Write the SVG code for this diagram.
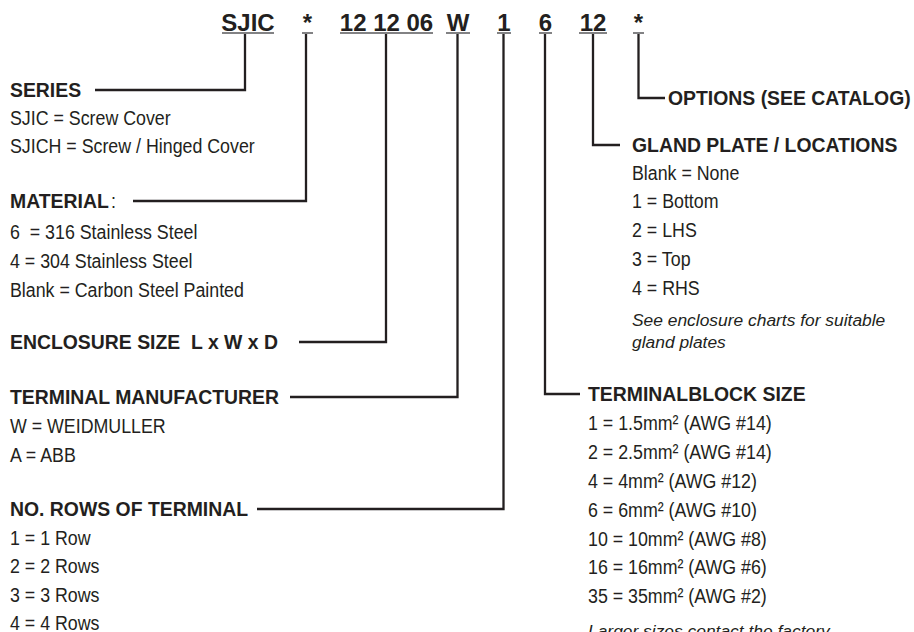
<svg xmlns="http://www.w3.org/2000/svg" width="914" height="632" viewBox="0 0 914 632">
<style>
text{font-family:"Liberation Sans",Arial,Helvetica,sans-serif;fill:#231f20}
.code{font-size:24px;font-weight:bold;text-anchor:middle}
.h{font-size:19.4px;font-weight:bold}
.t{font-size:20px}
.i{font-size:17.4px;font-style:italic}
.ul{stroke:#58595b;stroke-width:1.5}
.con{fill:none;stroke:#231f20;stroke-width:2.3;stroke-linejoin:miter;stroke-linecap:butt}
</style>
<rect width="914" height="632" fill="#ffffff"/>
<g id="code">
<text class="code" x="248" y="31">SJIC</text>
<text class="code" x="307.5" y="31">*</text>
<text class="code" x="386.5" y="31">12 12 06</text>
<text class="code" x="458" y="31">W</text>
<text class="code" x="504" y="31">1</text>
<text class="code" x="545.5" y="31">6</text>
<text class="code" x="593" y="31">12</text>
<text class="code" x="638.5" y="31">*</text>
<line class="ul" x1="222" y1="33" x2="274" y2="33"/>
<line class="ul" x1="302" y1="33" x2="313" y2="33"/>
<line class="ul" x1="340" y1="33" x2="433" y2="33"/>
<line class="ul" x1="446" y1="33" x2="470" y2="33"/>
<line class="ul" x1="497" y1="33" x2="511" y2="33"/>
<line class="ul" x1="539" y1="33" x2="552" y2="33"/>
<line class="ul" x1="579" y1="33" x2="607" y2="33"/>
<line class="ul" x1="633" y1="33" x2="644" y2="33"/>
</g>
<g id="connectors">
<polyline class="con" points="245,34 245,90 95,90"/>
<polyline class="con" points="306,34 306,201 133,201"/>
<polyline class="con" points="386,34 386,342 299,342"/>
<polyline class="con" points="457.5,34 457.5,397 290,397"/>
<polyline class="con" points="503.5,34 503.5,509 257,509"/>
<polyline class="con" points="545,34 545,394 580,394"/>
<polyline class="con" points="593,34 593,145 620,145"/>
<polyline class="con" points="638.5,34 638.5,98 665,98"/>
</g>
<g id="series">
<text class="h" x="10" y="97">SERIES</text>
<text class="t" transform="translate(10 0) scale(0.89 1)" x="0" y="125">SJIC = Screw Cover</text>
<text class="t" transform="translate(10 0) scale(0.89 1)" x="0" y="153">SJICH = Screw / Hinged Cover</text>
</g>
<g id="material">
<text class="h" x="10" y="208">MATERIAL</text>
<text class="t" transform="translate(111 0) scale(0.89 1)" x="0" y="208">:</text>
<text class="t" transform="translate(10 0) scale(0.89 1)" x="0" y="239" xml:space="preserve">6  = 316 Stainless Steel</text>
<text class="t" transform="translate(10 0) scale(0.89 1)" x="0" y="268">4 = 304 Stainless Steel</text>
<text class="t" transform="translate(10 0) scale(0.89 1)" x="0" y="297">Blank = Carbon Steel Painted</text>
</g>
<g id="enclosure-size">
<text class="h" x="10" y="349" xml:space="preserve">ENCLOSURE SIZE  L x W x D</text>
</g>
<g id="terminal-manufacturer">
<text class="h" x="10" y="404">TERMINAL MANUFACTURER</text>
<text class="t" transform="translate(10 0) scale(0.89 1)" x="0" y="433">W = WEIDMULLER</text>
<text class="t" transform="translate(10 0) scale(0.89 1)" x="0" y="462">A = ABB</text>
</g>
<g id="rows">
<text class="h" x="10" y="516">NO. ROWS OF TERMINAL</text>
<text class="t" transform="translate(10 0) scale(0.89 1)" x="0" y="545">1 = 1 Row</text>
<text class="t" transform="translate(10 0) scale(0.89 1)" x="0" y="573">2 = 2 Rows</text>
<text class="t" transform="translate(10 0) scale(0.89 1)" x="0" y="602">3 = 3 Rows</text>
<text class="t" transform="translate(10 0) scale(0.89 1)" x="0" y="630">4 = 4 Rows</text>
</g>
<g id="options">
<text class="h" x="668" y="105">OPTIONS (SEE CATALOG)</text>
</g>
<g id="gland-plate">
<text class="h" x="632" y="152">GLAND PLATE / LOCATIONS</text>
<text class="t" transform="translate(632 0) scale(0.89 1)" x="0" y="180">Blank = None</text>
<text class="t" transform="translate(632 0) scale(0.89 1)" x="0" y="208">1 = Bottom</text>
<text class="t" transform="translate(632 0) scale(0.89 1)" x="0" y="237">2 = LHS</text>
<text class="t" transform="translate(632 0) scale(0.89 1)" x="0" y="266">3 = Top</text>
<text class="t" transform="translate(632 0) scale(0.89 1)" x="0" y="295">4 = RHS</text>
<text class="i" x="632" y="326">See enclosure charts for suitable</text>
<text class="i" x="632" y="348">gland plates</text>
</g>
<g id="terminalblock-size">
<text class="h" x="588" y="401">TERMINALBLOCK SIZE</text>
<text class="t" transform="translate(588 0) scale(0.89 1)" x="0" y="430">1 = 1.5mm² (AWG #14)</text>
<text class="t" transform="translate(588 0) scale(0.89 1)" x="0" y="459">2 = 2.5mm² (AWG #14)</text>
<text class="t" transform="translate(588 0) scale(0.89 1)" x="0" y="488">4 = 4mm² (AWG #12)</text>
<text class="t" transform="translate(588 0) scale(0.89 1)" x="0" y="517">6 = 6mm² (AWG #10)</text>
<text class="t" transform="translate(588 0) scale(0.89 1)" x="0" y="546">10 = 10mm² (AWG #8)</text>
<text class="t" transform="translate(588 0) scale(0.89 1)" x="0" y="574">16 = 16mm² (AWG #6)</text>
<text class="t" transform="translate(588 0) scale(0.89 1)" x="0" y="603">35 = 35mm² (AWG #2)</text>
<text class="i" x="588" y="637">Larger sizes contact the factory</text>
</g>
</svg>
